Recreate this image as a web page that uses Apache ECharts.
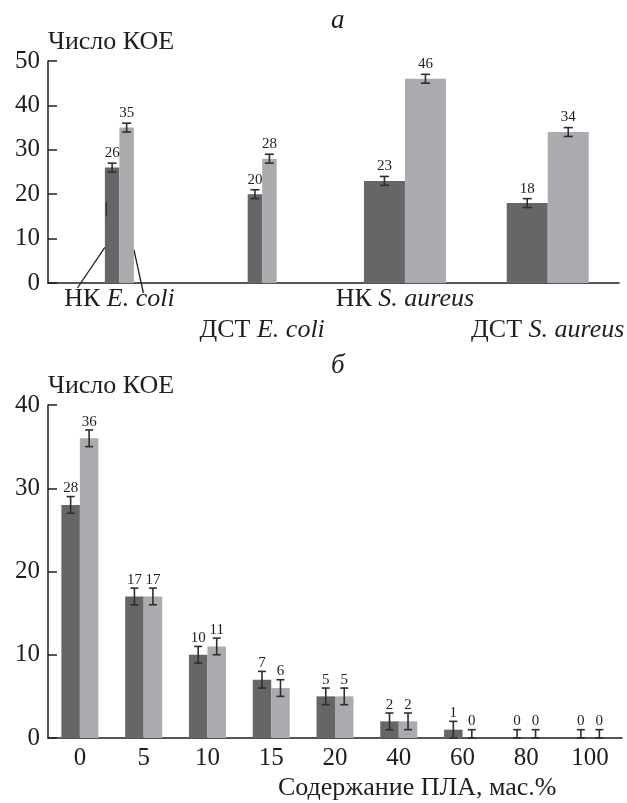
<!DOCTYPE html>
<html>
<head>
<meta charset="utf-8">
<script src="https://cdn.jsdelivr.net/npm/echarts@6/dist/echarts.min.js"></script>
<style>
  html, body { margin: 0; padding: 0; background: #fff; }
  #chart { width: 627px; height: 803px; }
</style>
</head>
<body>
<div id="chart"></div>
<script>
// Panel а: colony-forming units per strain / sample
const strainCategories = ['НК E. coli', 'ДСТ E. coli', 'НК S. aureus', 'ДСТ S. aureus'];
const strainDark = [26, 20, 23, 18];
const strainLight = [35, 28, 46, 34];
const strainError = [1, 1, 1, 1];
const strainLightError = [1, 1, 1, 1];
const strainTicks = { min: 0, max: 50, interval: 10 };

// Panel б: colony-forming units vs PLA content
const plaCategories = ['0', '5', '10', '15', '20', '40', '60', '80', '100'];
const plaDark = [28, 17, 10, 7, 5, 2, 1, 0, 0];
const plaLight = [36, 17, 11, 6, 5, 2, 0, 0, 0];
const plaDarkError = [1, 1, 1, 1, 1, 1, 1, 1, 1];
const plaLightError = [1, 1, 1, 1, 1, 1, 1, 1, 1];
const plaTicks = { min: 0, max: 40, interval: 10 };

const SERIF = '"Liberation Serif", "DejaVu Serif", serif';
const INK = '#1e1e1e';
const DARK = '#666668';
const LIGHT = '#aaabae';
const ERR = '#2e2e2e';

// E. coli pairs are drawn narrow, S. aureus pairs wide
const NARROW_W = 14.5;
const WIDE_W = 41;
const PLA_W = 18.5;

const chart = echarts.init(document.getElementById('chart'), null, { renderer: 'canvas' });

function pick(arr, keep) {
  return arr.map((v, i) => (keep(i) ? v : '-'));
}
const isEcoli = i => i < 2;
const isAureus = i => i >= 2;

function barSeries(data, color, width, xi, yi, labelDist) {
  return {
    type: 'bar',
    xAxisIndex: xi,
    yAxisIndex: yi,
    data: data,
    barWidth: width,
    barGap: '0%',
    itemStyle: { color: color },
    label: {
      show: true,
      position: 'top',
      distance: labelDist,
      fontFamily: SERIF,
      fontSize: 15,
      color: INK
    },
    z: 2
  };
}

// Error bars drawn through the same axes as the bars they belong to
function errorSeries(values, errors, keep, side, width, xi, yi, cap) {
  const data = [];
  values.forEach((v, i) => { if (keep(i)) data.push([i, v, errors[i]]); });
  return {
    type: 'custom',
    xAxisIndex: xi,
    yAxisIndex: yi,
    data: data,
    z: 5,
    silent: true,
    renderItem: function (params, api) {
      const i = api.value(0);
      const v = api.value(1);
      const e = api.value(2);
      const top = api.coord([i, v + e]);
      const bot = api.coord([i, Math.max(0, v - e)]);
      const x = top[0] + side * width / 2;
      const st = { stroke: ERR, lineWidth: 1.6 };
      return {
        type: 'group',
        children: [
          { type: 'line', shape: { x1: x, y1: top[1], x2: x, y2: bot[1] }, style: st },
          { type: 'line', shape: { x1: x - cap / 2, y1: top[1], x2: x + cap / 2, y2: top[1] }, style: st },
          { type: 'line', shape: { x1: x - cap / 2, y1: bot[1], x2: x + cap / 2, y2: bot[1] }, style: st }
        ]
      };
    }
  };
}

const axisLineStyle = { color: INK, width: 1.5 };

function valueAxis(grid, ticks) {
  return {
    type: 'value',
    gridIndex: grid,
    min: ticks.min,
    max: ticks.max,
    interval: ticks.interval,
    name: 'Число КОЕ',
    nameLocation: 'end',
    nameGap: 6,
    nameTextStyle: {
      fontFamily: SERIF, fontSize: 26, color: INK,
      align: 'left', verticalAlign: 'bottom'
    },
    axisLine: { show: true, lineStyle: axisLineStyle },
    axisTick: { show: true, inside: true, length: 9, lineStyle: axisLineStyle },
    splitLine: { show: false },
    axisLabel: { fontFamily: SERIF, fontSize: 25, color: INK, margin: 8 }
  };
}

const labelRich = {
  n: { fontFamily: SERIF, fontSize: 26, color: INK, lineHeight: 31 },
  i: { fontFamily: SERIF, fontSize: 26, color: INK, lineHeight: 31, fontStyle: 'italic' }
};

const option = {
  animation: false,
  backgroundColor: '#fff',
  title: [
    { text: 'а', left: 326, top: 2, textStyle: { fontFamily: SERIF, fontSize: 27, fontStyle: 'italic', fontWeight: 'normal', color: INK } },
    { text: 'б', left: 326, top: 347, textStyle: { fontFamily: SERIF, fontSize: 27, fontStyle: 'italic', fontWeight: 'normal', color: INK } },
    { text: 'Содержание ПЛА, мас.%', left: 273, top: 770, textStyle: { fontFamily: SERIF, fontSize: 26, fontWeight: 'normal', color: INK } }
  ],
  grid: [
    { left: 48, top: 61, width: 574, height: 222 },
    { left: 48, top: 405, width: 574, height: 333 }
  ],
  xAxis: [
    {
      type: 'category',
      gridIndex: 0,
      data: strainCategories,
      axisLine: { lineStyle: axisLineStyle },
      axisTick: { inside: true, length: 9, lineStyle: axisLineStyle },
      axisLabel: {
        interval: 0,
        margin: 1,
        formatter: function (val, idx) {
          const sp = val.indexOf(' ');
          const line = '{n|' + val.slice(0, sp + 1) + '}{i|' + val.slice(sp + 1) + '}';
          return idx % 2 ? '{n| }\n' + line : line;
        },
        rich: labelRich
      }
    },
    {
      type: 'category',
      gridIndex: 0,
      data: strainCategories,
      show: false
    },
    {
      type: 'category',
      gridIndex: 1,
      data: plaCategories,
      axisLine: { lineStyle: axisLineStyle },
      axisTick: { inside: true, length: 9, lineStyle: axisLineStyle },
      axisLabel: { interval: 0, fontFamily: SERIF, fontSize: 25, color: INK, margin: 8 }
    }
  ],
  yAxis: [valueAxis(0, strainTicks), valueAxis(1, plaTicks)],
  series: [
    barSeries(pick(strainDark, isEcoli), DARK, NARROW_W, 0, 0, 7),
    barSeries(pick(strainLight, isEcoli), LIGHT, NARROW_W, 0, 0, 7),
    barSeries(pick(strainDark, isAureus), DARK, WIDE_W, 1, 0, 7),
    barSeries(pick(strainLight, isAureus), LIGHT, WIDE_W, 1, 0, 7),
    errorSeries(strainDark, strainError, isEcoli, -1, NARROW_W, 0, 0, 9),
    errorSeries(strainLight, strainLightError, isEcoli, 1, NARROW_W, 0, 0, 9),
    errorSeries(strainDark, strainError, isAureus, -1, WIDE_W, 1, 0, 9),
    errorSeries(strainLight, strainLightError, isAureus, 1, WIDE_W, 1, 0, 9),

    barSeries(plaDark, DARK, PLA_W, 2, 1, 9),
    barSeries(plaLight, LIGHT, PLA_W, 2, 1, 9),
    errorSeries(plaDark, plaDarkError, () => true, -1, PLA_W, 2, 1, 8),
    errorSeries(plaLight, plaLightError, () => true, 1, PLA_W, 2, 1, 8)
  ]
};

chart.setOption(option);

// Leader lines tying the first caption to its pair of bars
function px(xi, cat, val) {
  return chart.convertToPixel({ xAxisIndex: xi, yAxisIndex: 0 }, [cat, val]);
}
const c0 = px(0, 0, 0);
const darkEdge = px(0, 0, 8);
const lightEdge = px(0, 0, 7.5);
const stub = [px(0, 0, 15), px(0, 0, 18.2)];
chart.setOption({
  graphic: [
    { type: 'line', shape: { x1: c0[0] - 42, y1: c0[1] + 5, x2: darkEdge[0] - NARROW_W, y2: darkEdge[1] }, style: { stroke: INK, lineWidth: 1.3 } },
    { type: 'line', shape: { x1: c0[0] + 24, y1: c0[1] + 10, x2: lightEdge[0] + NARROW_W, y2: lightEdge[1] }, style: { stroke: INK, lineWidth: 1.3 } },
    { type: 'line', shape: { x1: stub[0][0] - NARROW_W + 1.5, y1: stub[0][1], x2: stub[1][0] - NARROW_W + 1.5, y2: stub[1][1] }, style: { stroke: '#333', lineWidth: 1.3 }, z: 10 }
  ]
});
</script>
</body>
</html>
